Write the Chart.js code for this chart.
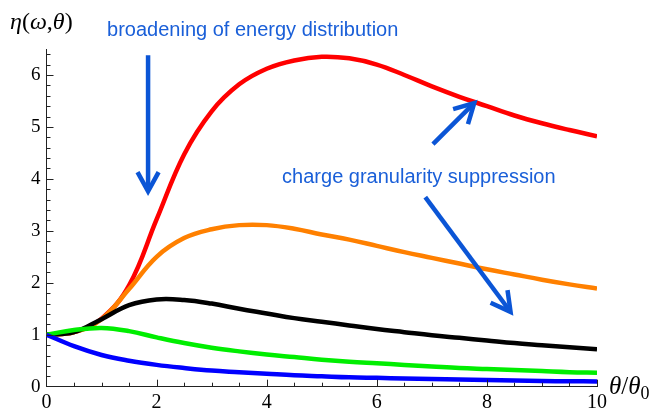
<!DOCTYPE html>
<html>
<head>
<meta charset="utf-8">
<script src="https://cdn.jsdelivr.net/npm/chart.js@4.4.1/dist/chart.umd.min.js"></script>
<style>
  html, body { margin: 0; padding: 0; background: #fff; }
  #wrap { width: 655px; height: 409px; position: relative; }
</style>
</head>
<body>
<div id="wrap"><canvas id="eta-chart"></canvas></div>
<script>
// theta / theta0 sample points
const thetaRatio = [0, 0.5, 1, 1.5, 2, 2.5, 3, 3.5, 4, 4.5, 5, 5.5, 6, 6.5, 7, 7.5, 8, 8.5, 9, 9.5, 10];

// eta(omega, theta) curves
const etaRed    = [1, 1.05, 1.31, 1.95, 3.22, 4.47, 5.3, 5.82, 6.12, 6.28, 6.35, 6.32, 6.2, 6.0, 5.78, 5.58, 5.4, 5.22, 5.07, 4.94, 4.82];
const etaOrange = [1, 1.05, 1.3, 1.88, 2.5, 2.86, 3.03, 3.11, 3.11, 3.04, 2.93, 2.83, 2.71, 2.59, 2.48, 2.37, 2.26, 2.16, 2.06, 1.97, 1.89];
const etaBlack  = [1, 1.05, 1.3, 1.57, 1.68, 1.67, 1.6, 1.5, 1.41, 1.32, 1.25, 1.18, 1.11, 1.05, 0.99, 0.94, 0.89, 0.84, 0.8, 0.76, 0.72];
const etaGreen  = [1, 1.09, 1.13, 1.07, 0.95, 0.84, 0.75, 0.68, 0.62, 0.57, 0.52, 0.48, 0.45, 0.42, 0.39, 0.36, 0.34, 0.32, 0.3, 0.28, 0.27];
const etaBlue   = [1, 0.78, 0.61, 0.5, 0.42, 0.36, 0.31, 0.28, 0.25, 0.22, 0.2, 0.18, 0.17, 0.16, 0.15, 0.14, 0.13, 0.12, 0.11, 0.105, 0.1];

const xTicks = [0, 2, 4, 6, 8, 10];
const yTicks = [0, 1, 2, 3, 4, 5, 6];

// annotation arrows in data units: [x0, y0, x1, y1]
const arrows = [
  [1.845, 6.38, 1.845, 3.76],
  [7.02, 4.67, 7.77, 5.46],
  [6.88, 3.65, 8.43, 1.44]
];
const notes = [
  { text: "broadening of energy distribution", x: 1.1, y: 6.86 },
  { text: "charge granularity suppression", x: 4.28, y: 4.03 }
];

const pts = arr => arr.map((v, i) => ({ x: thetaRatio[i], y: v }));

function line(data, color) {
  return {
    data: pts(data),
    borderColor: color,
    borderWidth: 4.5,
    pointRadius: 0,
    tension: 0.4,
    fill: false
  };
}

const serif = "'Liberation Serif', 'DejaVu Serif', serif";
const blue = "#1a5fd8";

// inward tick marks, Mathematica style
const tickMarks = {
  id: "tickMarks",
  afterDraw(chart) {
    const ctx = chart.ctx, x = chart.scales.x, y = chart.scales.y;
    const a = chart.chartArea;
    ctx.save();
    ctx.strokeStyle = "#222";
    ctx.lineWidth = 1;
    for (let i = 1; i <= 32; i++) {
      const v = i * 0.2;
      const py = Math.round(y.getPixelForValue(v)) + 0.5;
      const len = (i % 5 === 0) ? 7 : 4;
      ctx.beginPath(); ctx.moveTo(a.left, py); ctx.lineTo(a.left + len, py); ctx.stroke();
    }
    for (let i = 1; i <= 20; i++) {
      const v = i * 0.5;
      const px = Math.round(x.getPixelForValue(v)) + 0.5;
      const len = (i % 4 === 0) ? 7 : 4;
      ctx.beginPath(); ctx.moveTo(px, a.bottom); ctx.lineTo(px, a.bottom - len); ctx.stroke();
    }
    ctx.restore();
  }
};

const annotations = {
  id: "annotations",
  afterDraw(chart) {
    const ctx = chart.ctx, x = chart.scales.x, y = chart.scales.y;
    ctx.save();
    ctx.strokeStyle = "#0b55d6";
    ctx.lineWidth = 4.5;
    ctx.lineJoin = "miter";
    arrows.forEach(([x0, y0, x1, y1]) => {
      const p0x = x.getPixelForValue(x0), p0y = y.getPixelForValue(y0);
      const p1x = x.getPixelForValue(x1), p1y = y.getPixelForValue(y1);
      const ang = Math.atan2(p1y - p0y, p1x - p0x);
      const hl = 22, spread = 0.5;
      ctx.beginPath(); ctx.moveTo(p0x, p0y); ctx.lineTo(p1x - 3 * Math.cos(ang), p1y - 3 * Math.sin(ang)); ctx.stroke();
      ctx.beginPath();
      ctx.moveTo(p1x - hl * Math.cos(ang - spread), p1y - hl * Math.sin(ang - spread));
      ctx.lineTo(p1x, p1y);
      ctx.lineTo(p1x - hl * Math.cos(ang + spread), p1y - hl * Math.sin(ang + spread));
      ctx.stroke();
    });
    ctx.fillStyle = blue;
    ctx.font = "20px 'Liberation Sans', Arial, sans-serif";
    ctx.textBaseline = "middle";
    notes.forEach(n => ctx.fillText(n.text, x.getPixelForValue(n.x), y.getPixelForValue(n.y)));

    // axis labels
    ctx.fillStyle = "#000";
    ctx.textBaseline = "alphabetic";
    const parts = [["η", true], ["(", false], ["ω", true], [",", false], ["θ", true], [")", false]];
    let cx = 10;
    parts.forEach(([t, it]) => {
      ctx.font = (it ? "italic " : "") + "24px " + serif;
      ctx.fillText(t, cx, 29);
      cx += ctx.measureText(t).width;
    });
    let tx = 609;
    ctx.font = "italic 25px " + serif;
    ctx.fillText("θ", tx, 394); tx += ctx.measureText("θ").width;
    ctx.font = "25px " + serif;
    ctx.fillText("/", tx, 394); tx += ctx.measureText("/").width;
    ctx.font = "italic 25px " + serif;
    ctx.fillText("θ", tx, 394); tx += ctx.measureText("θ").width;
    ctx.font = "18px " + serif;
    ctx.fillText("0", tx, 399);
    ctx.restore();
  }
};

new Chart(document.getElementById("eta-chart"), {
  type: "line",
  data: {
    datasets: [
      line(etaBlue, "#0000ff"),
      line(etaGreen, "#00ee00"),
      line(etaBlack, "#000000"),
      line(etaOrange, "#ff8000"),
      line(etaRed, "#ff0000")
    ]
  },
  options: {
    responsive: true,
    maintainAspectRatio: false,
    animation: false,
    layout: { padding: { left: 0, top: 49, right: 58, bottom: 0 } },
    plugins: { legend: { display: false }, tooltip: { enabled: false } },
    scales: {
      x: {
        type: "linear",
        min: 0, max: 10,
        grid: { display: false, drawTicks: false },
        border: { display: true, color: "#222", width: 1 },
        afterBuildTicks: s => { s.ticks = xTicks.map(v => ({ value: v })); },
        afterFit: s => { s.height = 22.3; },
        ticks: { color: "#000", padding: 4, maxRotation: 0, font: { family: serif, size: 20 } }
      },
      y: {
        min: 0, max: 6.5,
        grid: { display: false, drawTicks: false },
        border: { display: true, color: "#222", width: 1 },
        afterBuildTicks: s => { s.ticks = yTicks.map(v => ({ value: v })); },
        afterFit: s => { s.width = 46.5; },
        ticks: { color: "#000", padding: 6, font: { family: serif, size: 19 } }
      }
    }
  },
  plugins: [tickMarks, annotations]
});
</script>
</body>
</html>
